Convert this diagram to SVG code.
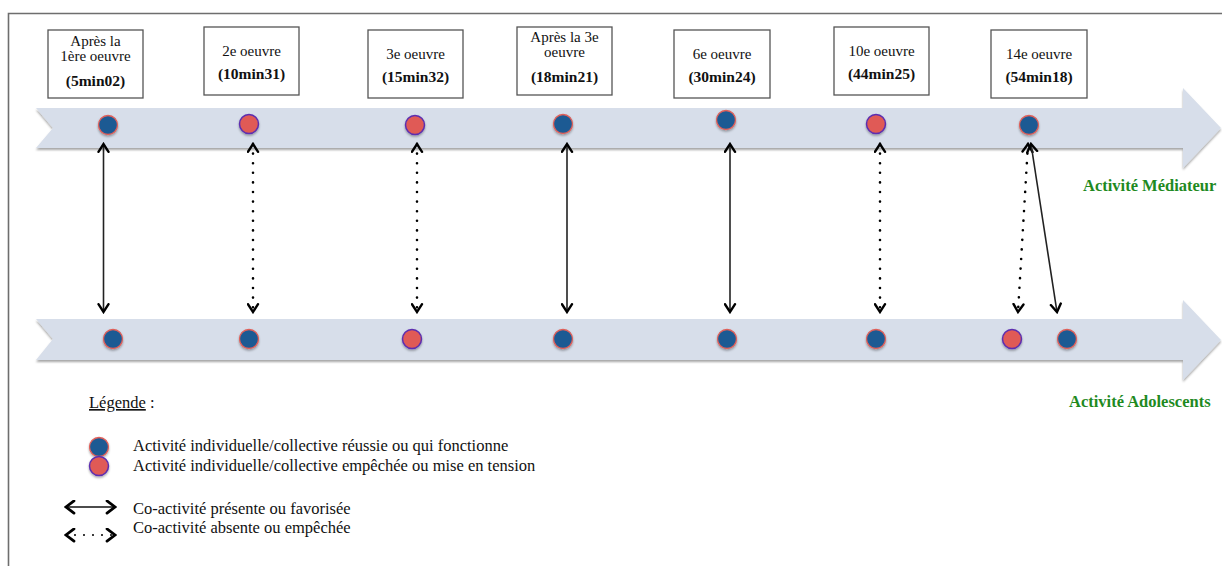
<svg xmlns="http://www.w3.org/2000/svg" width="1222" height="566" viewBox="0 0 1222 566">
<defs>
<style>
.box{fill:#fff;stroke:#555;stroke-width:1.3}
.t{font-family:"Liberation Serif","Times New Roman",serif;font-size:15px;fill:#111;text-anchor:middle}
.b{font-weight:bold;font-size:15.5px}
.lab{font-family:"Liberation Serif","Times New Roman",serif;font-size:16.5px;font-weight:bold;fill:#1f8a1f}
.lg{font-family:"Liberation Serif","Times New Roman",serif;font-size:16.5px;fill:#111}
.band{fill:#d7deea}
.blue{fill:#1d5a93;stroke:#e0605a;stroke-width:1.3}
.red{fill:#e05a56;stroke:#5d2fb0;stroke-width:1.5}
.solid{stroke:#222;stroke-width:1.6;fill:none;marker-start:url(#ch);marker-end:url(#ch)}
.dot{stroke:#000;stroke-width:2.6;fill:none;stroke-linecap:round;stroke-dasharray:0 9.6;marker-start:url(#ch);marker-end:url(#ch)}
</style>
<marker id="ch" viewBox="0 0 12 14" refX="10" refY="7" markerWidth="11" markerHeight="13" markerUnits="userSpaceOnUse" orient="auto-start-reverse">
<path d="M1.5,1.5 L10,7 L1.5,12.5" fill="none" stroke="#000" stroke-width="2.6" stroke-linecap="round" stroke-linejoin="miter"/>
</marker>
<marker id="chL" viewBox="0 0 12 16" refX="10" refY="8" markerWidth="12" markerHeight="15" markerUnits="userSpaceOnUse" orient="auto-start-reverse">
<path d="M1.5,1.5 L10,8 L1.5,14.5" fill="none" stroke="#000" stroke-width="3" stroke-linecap="round"/>
</marker>
<filter id="sh" x="-5%" y="-20%" width="110%" height="150%">
<feDropShadow dx="0" dy="2" stdDeviation="1.2" flood-color="#000" flood-opacity="0.35"/>
</filter>
<filter id="dsh" x="-50%" y="-50%" width="200%" height="200%">
<feDropShadow dx="0" dy="1.5" stdDeviation="1" flood-color="#000" flood-opacity="0.35"/>
</filter>
</defs>
<rect width="1222" height="566" fill="#fff"/>
<path d="M8.5,566 V13.5 H1222" fill="none" stroke="#6e6e6e" stroke-width="1.6"/>

<g id="band-mediateur">
<polygon class="band" filter="url(#sh)" points="36,108 1183,108 1183,88 1221,128 1183,168 1183,148 36,148 53,128"/>
</g>
<g id="band-adolescents">
<polygon class="band" filter="url(#sh)" points="36,319 1183,319 1183,300 1221,340 1183,380 1183,360 36,360 53,339"/>
</g>

<g id="box1"><rect class="box" x="48" y="30" width="95" height="68"/>
<text class="t" x="95.5" y="46">Après la</text><text class="t" x="95.5" y="61">1ère oeuvre</text><text class="t b" x="95.5" y="86">(5min02)</text></g>
<g id="box2"><rect class="box" x="204" y="27" width="95" height="68"/>
<text class="t" x="251.5" y="56">2e oeuvre</text><text class="t b" x="251.5" y="79">(10min31)</text></g>
<g id="box3"><rect class="box" x="368" y="30" width="95" height="68"/>
<text class="t" x="415.5" y="59">3e oeuvre</text><text class="t b" x="415.5" y="82">(15min32)</text></g>
<g id="box4"><rect class="box" x="517" y="27" width="95" height="68"/>
<text class="t" x="564.5" y="42">Après la 3e</text><text class="t" x="564.5" y="57">oeuvre</text><text class="t b" x="564.5" y="82">(18min21)</text></g>
<g id="box5"><rect class="box" x="674" y="30" width="96" height="68"/>
<text class="t" x="722" y="59">6e oeuvre</text><text class="t b" x="722" y="82">(30min24)</text></g>
<g id="box6"><rect class="box" x="834" y="27" width="95" height="68"/>
<text class="t" x="881.5" y="56">10e oeuvre</text><text class="t b" x="881.5" y="79">(44min25)</text></g>
<g id="box7"><rect class="box" x="991" y="30" width="96" height="68"/>
<text class="t" x="1039" y="59">14e oeuvre</text><text class="t b" x="1039" y="82">(54min18)</text></g>

<g id="dots-mediateur" filter="url(#dsh)">
<circle class="blue" cx="108" cy="125" r="9.5"/>
<circle class="red" cx="249" cy="124" r="9.5"/>
<circle class="red" cx="415" cy="125" r="9.5"/>
<circle class="blue" cx="563" cy="124" r="9.5"/>
<circle class="blue" cx="726" cy="120" r="9.5"/>
<circle class="red" cx="876" cy="124" r="9.5"/>
<circle class="blue" cx="1029" cy="125" r="9.5"/>
</g>
<g id="dots-adolescents" filter="url(#dsh)">
<circle class="blue" cx="113" cy="339" r="9.5"/>
<circle class="blue" cx="249" cy="339" r="9.5"/>
<circle class="red" cx="412" cy="339" r="9.5"/>
<circle class="blue" cx="563" cy="339" r="9.5"/>
<circle class="blue" cx="727" cy="339" r="9.5"/>
<circle class="blue" cx="876" cy="339" r="9.5"/>
<circle class="red" cx="1012" cy="339" r="9.5"/>
<circle class="blue" cx="1067" cy="339" r="9.5"/>
</g>

<g id="connectors">
<line class="solid" x1="103.5" y1="144" x2="103.5" y2="312"/>
<line class="dot" x1="253" y1="144" x2="253" y2="312"/>
<line class="dot" x1="417" y1="144" x2="417" y2="312"/>
<line class="solid" x1="567" y1="144" x2="567" y2="312"/>
<line class="solid" x1="730" y1="144" x2="730" y2="312"/>
<line class="dot" x1="880" y1="144" x2="880" y2="312"/>
<line class="dot" x1="1028" y1="144" x2="1018" y2="312"/>
<line class="solid" x1="1031" y1="144" x2="1057" y2="312"/>
</g>

<g id="labels">
<text class="lab" x="1083" y="191">Activité Médiateur</text>
<text class="lab" x="1069" y="407">Activité Adolescents</text>
</g>

<g id="legend">
<text class="lg" x="89" y="408"><tspan text-decoration="underline">Légende</tspan> :</text>
<g filter="url(#dsh)">
<circle class="blue" cx="99" cy="447" r="9.5"/>
<circle class="red" cx="99" cy="466" r="9.5"/>
</g>
<text class="lg" x="133" y="451">Activité individuelle/collective réussie ou qui fonctionne</text>
<text class="lg" x="133" y="471">Activité individuelle/collective empêchée ou mise en tension</text>
<line x1="66" y1="507" x2="115" y2="507" stroke="#111" stroke-width="1.5" marker-start="url(#chL)" marker-end="url(#chL)"/>
<line x1="66" y1="535" x2="115" y2="535" stroke="#111" stroke-width="2.2" stroke-linecap="round" stroke-dasharray="0 9" marker-start="url(#chL)" marker-end="url(#chL)"/>
<text class="lg" x="133" y="514">Co-activité présente ou favorisée</text>
<text class="lg" x="133" y="533">Co-activité absente ou empêchée</text>
</g>
</svg>
